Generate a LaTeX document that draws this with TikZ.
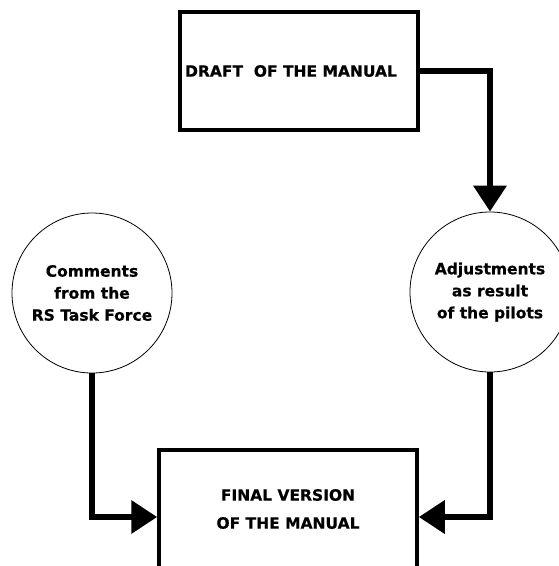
\documentclass[tikz,border=0pt]{standalone}
\usepackage{fontspec}
\setmainfont{DejaVu Sans}[BoldFeatures={FakeBold=0.6}]
\usepackage{tikz}
\usetikzlibrary{arrows.meta}

\begin{document}
\begin{tikzpicture}[
	x=1pt, y=-1pt,
	stage/.style={rectangle, draw=black, line width=3.5pt, fill=white, minimum height=118pt, font=\bfseries\fontsize{15.5}{28}\selectfont, align=center},
	input/.style={circle, draw=black, line width=0.8pt, minimum size=160pt, inner sep=0pt, font=\bfseries\fontsize{15.5}{22}\selectfont, align=center},
	flow/.style={line width=6.5pt, -{Triangle[length=26pt, width=32pt]}},
	]
	\useasboundingbox[fill=white] (0, 0) rectangle (558, 566);

	\node[stage, minimum width=238pt] at (299, 71) (draft) {DRAFT\ \ OF THE MANUAL\hspace*{16pt}};
	\node[input] at (92, 293) (comments) {Comments\\from the\\RS Task Force};
	\node[input] at (490, 292) (adjust) {Adjustments\\as result\\of the pilots};
	\node[stage, minimum width=258pt] at (288, 509) (final) {FINAL VERSION\\OF THE MANUAL};

	\draw[flow] (draft.east) -| (adjust.north);
	\draw[flow] (comments.south) |- ([yshift=-8pt]final.west);
	\draw[flow] (adjust.south) |- ([yshift=-8pt]final.east);
\end{tikzpicture}
\end{document}
